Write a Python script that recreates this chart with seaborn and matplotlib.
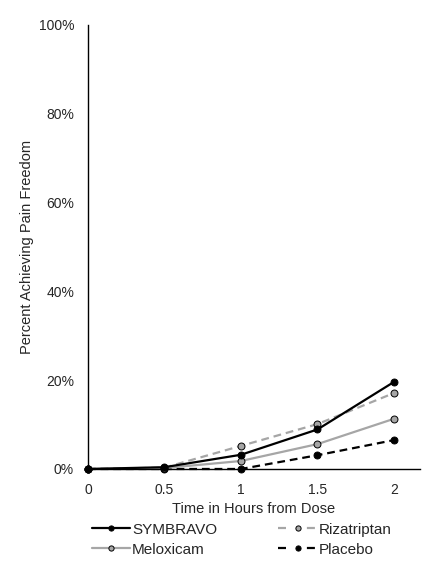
import numpy as np
import pandas as pd
import seaborn as sns
import matplotlib.pyplot as plt
from matplotlib.lines import Line2D
from matplotlib.ticker import PercentFormatter

# Time points and percent achieving pain freedom
hours = [0, 0.5, 1, 1.5, 2]
symbravo = [0, 0.4, 3.2, 8.9, 19.6]
rizatriptan = [0, 0.3, 5.2, 10.1, 17.1]
meloxicam = [0, 0.2, 1.8, 5.6, 11.3]
placebo = [0, 0, 0, 3.1, 6.5]

sns.set_style('white')
plt.rcParams['font.family'] = ['Liberation Sans', 'DejaVu Sans']
plt.rcParams['font.size'] = 10

fig = plt.figure(figsize=(4.44, 5.63), dpi=100)
ax = fig.add_axes([0.198, 0.167, 0.748, 0.789])

gray = '#a6a6a6'
series = [
    ('Placebo', placebo, 'black', (3.5, 2.2), 'black'),
    ('Meloxicam', meloxicam, gray, '', gray),
    ('Rizatriptan', rizatriptan, gray, (3.5, 2.2), gray),
    ('SYMBRAVO', symbravo, 'black', '', 'black'),
]
handles = {}
for name, vals, color, dash, face in series:
    df = pd.DataFrame({'hours': hours, 'pct': vals})
    sns.lineplot(data=df, x='hours', y='pct', ax=ax, color=color, lw=1.6,
                 marker='o', markersize=5, markerfacecolor=face,
                 markeredgecolor='black', markeredgewidth=0.7,
                 label=name, clip_on=False)
    ln = ax.get_lines()[-1]
    if dash:
        ln.set_dashes(dash)
        # legend sample looks like "- o -"
        handles[name] = Line2D([], [], color=color, lw=1.6, dashes=(3.6, 9.4),
                               marker='o', markersize=5, markerfacecolor=face,
                               markeredgecolor='black', markeredgewidth=0.7)
    else:
        handles[name] = ln

ax.set_xlim(0, 2.17)
ax.set_ylim(0, 100)
ax.set_xticks(hours)
ax.set_xticklabels(['0', '0.5', '1', '1.5', '2'])
ax.set_yticks(np.arange(0, 101, 20))
ax.yaxis.set_major_formatter(PercentFormatter(decimals=0))
for s in ['top', 'right']:
    ax.spines[s].set_visible(False)
for s in ['left', 'bottom']:
    ax.spines[s].set_color('black')
    ax.spines[s].set_linewidth(1.0)
ax.tick_params(axis='both', direction='out', length=4, width=1, color='black',
               labelsize=10, pad=6)
ax.set_xlabel('Time in Hours from Dose', fontsize=10.5, labelpad=4)
ax.set_ylabel('Percent Achieving Pain Freedom', fontsize=10.5, labelpad=3)

order = ['SYMBRAVO', 'Meloxicam', 'Rizatriptan', 'Placebo']
ax.legend([handles[n] for n in order], order, ncol=2, frameon=False,
          loc='upper left', bbox_to_anchor=(-0.03, -0.09), handlelength=2.5,
          handletextpad=0.15, columnspacing=4.0, labelspacing=0.4, fontsize=11,
          markerscale=0.75)

fig.savefig('out.png', dpi=100)
